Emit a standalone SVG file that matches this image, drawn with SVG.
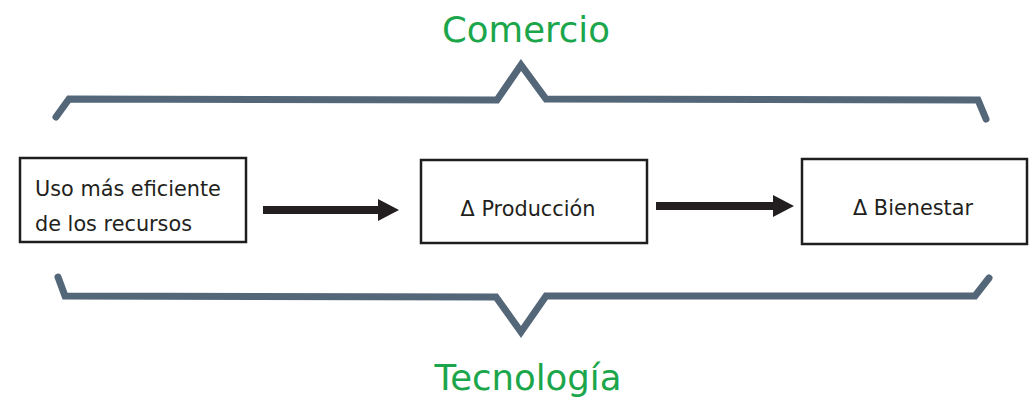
<svg xmlns="http://www.w3.org/2000/svg" width="1033" height="397" viewBox="0 0 1033 397">
<style>
.brace{fill:none;stroke:#546779;stroke-width:7;stroke-linecap:round;stroke-linejoin:miter}
.box{fill:#fff;stroke:#1e1e1e;stroke-width:2.5}
.lbl{font-family:"DejaVu Sans",Verdana,sans-serif;font-size:20.8px;fill:#231f20}
.title{font-family:"DejaVu Sans",Verdana,sans-serif;font-size:35.5px;fill:#1ba64b;text-anchor:middle}
.arrow{fill:#231f20}
</style>
<rect width="1033" height="397" fill="#fff"/>
<g id="comercio">
<path class="brace" d="M56,117 L69,99 L497,100 L521,65 L546,99 L978,100 L986,119"/>
<text class="title" x="526" y="42">Comercio</text>
</g>
<g id="tecnologia">
<path class="brace" d="M58,277 L65,296 L496,297 L521,332 L546,296 L975,296 L989,278"/>
<text class="title" x="528" y="390">Tecnología</text>
</g>
<g id="uso">
<rect class="box" x="20" y="158" width="226" height="84"/>
<text class="lbl" x="35" y="196">Uso más eficiente</text>
<text class="lbl" x="35" y="231">de los recursos</text>
</g>
<g id="produccion">
<rect class="box" x="421" y="160" width="226" height="83"/>
<text class="lbl" x="528" y="216" text-anchor="middle">Δ Producción</text>
</g>
<g id="bienestar">
<rect class="box" x="802" y="159" width="225" height="85"/>
<text class="lbl" x="913" y="215" text-anchor="middle">Δ Bienestar</text>
</g>
<g id="connectors">
<path class="arrow" d="M263,206 L378,206 L378,199 L399,210 L378,221 L378,214 L263,214 Z"/>
<path class="arrow" d="M656,202 L773,202 L773,195 L794,206 L773,217 L773,210 L656,210 Z"/>
</g>
</svg>
